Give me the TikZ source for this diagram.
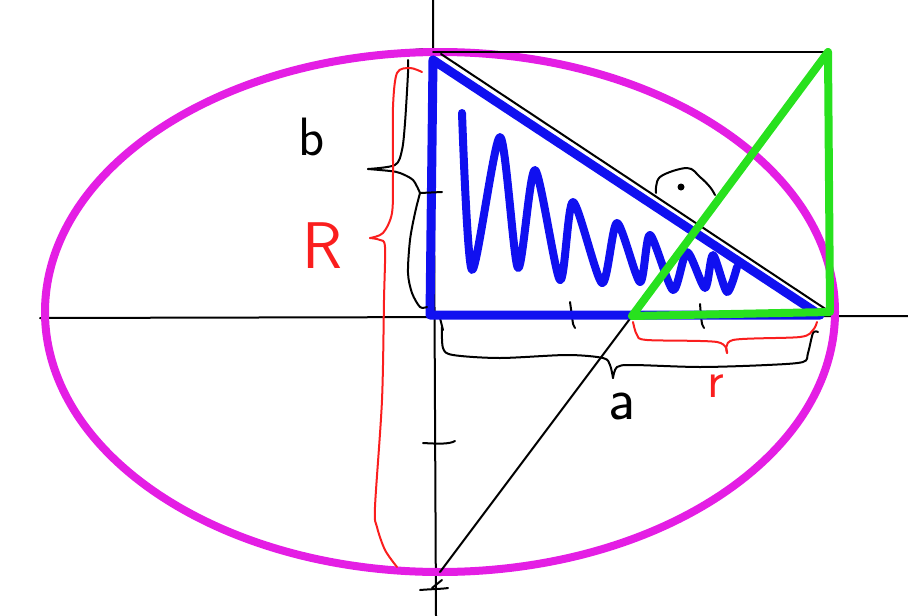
\documentclass[tikz,border=0pt]{standalone}
\usepackage{tikz}
\definecolor{mag}{RGB}{228,30,228}
\definecolor{pblue}{RGB}{16,16,240}
\definecolor{pgreen}{RGB}{40,225,30}
\definecolor{pred}{RGB}{250,30,30}
\tikzset{
  ink/.style={black,line width=2pt,line cap=round,line join=round},
  redink/.style={pred,line width=2pt,line cap=round,line join=round},
  bluestroke/.style={pblue,line width=9pt,line cap=round,line join=round},
  greenstroke/.style={pgreen,line width=8pt,line cap=round,line join=round},
  magstroke/.style={mag,line width=8pt},
  lbl/.style={inner sep=0pt,font=\sffamily}
}
\begin{document}
\begin{tikzpicture}[x=1pt,y=-1pt]
\useasboundingbox (0,0) rectangle (908,616);
% axes
\coordinate (yt) at (433,0); \coordinate (yb) at (436,616);
\coordinate (xl) at (40,318); \coordinate (xr) at (908,316);
\draw[ink] (yt) -- (yb);
\draw[ink] (xl) -- (xr);
% ticks
\draw[ink] (570,302) -- (572,316) .. controls (573,325) .. (575,328);
\draw[ink] (700,304) -- (701,316) .. controls (702,325) .. (704,328);
\draw[ink] (423,443) .. controls (440,444) and (450,444) .. (455,441);
\draw[ink] (420,590) .. controls (432,589) and (442,589) .. (448,588);
\draw[ink] (442,580) -- (432,588);
\draw[ink] (413,50) -- (425,49);
\draw[ink] (437,49) -- (448,50);
\draw[ink] (440,318) -- (443,330);
% ellipse
\node[draw=none,inner sep=0pt] (O) at (440,312) {};
\draw[magstroke] (O) ellipse [x radius=395, y radius=260];
% black construction lines
\coordinate (TL) at (433,52); \coordinate (TR) at (828,52);
\coordinate (BR) at (830,312); \coordinate (M) at (632,316);
\coordinate (Bot) at (440,572);
\draw[ink] (TL) -- (TR);
\draw[ink] (441,54) -- (BR);
\draw[ink] (M) -- (Bot);
% blue triangle
\draw[bluestroke] (433,60) -- (430,315) -- (820,315) -- cycle;
% blue squiggle
\draw[pblue,line width=8pt,line cap=round,line join=round]
  plot[smooth,tension=0.45] coordinates {(462,113) (472,270) (500,137) (518,268) (535,170) (560,280) (573,202) (602,283) (617,223) (640,282) (650,235) (673,290) (687,252) (705,288) (713,255) (727,292) (737,267)};
% green triangle
\draw[greenstroke] (M) -- (TR) -- (BR) -- cycle;
% right angle marker
\draw[ink] plot[smooth,tension=0.6] coordinates {(656,193) (660,177) (687,168) (700,177) (710,187) (715,195)};
\fill (681,187) circle (3.5pt);
% black brace b
\draw[ink] plot[smooth,tension=0.5] coordinates {(408,60) (408,73) (405,123) (402,150) (395,165) (368,169)};
\draw[ink] plot[smooth,tension=0.5] coordinates {(368,169) (390,171) (400,173) (413,180) (420,193)};
\draw[ink] (420,193) -- (442,192);
\draw[ink] plot[smooth,tension=0.5] coordinates {(420,193) (415,213) (410,240) (408,273) (412,293) (420,307) (427,307)};
% red brace R
\draw[redink] plot[smooth,tension=0.5] coordinates {(422,72) (410,68) (397,73) (393,107) (393,173) (392,213) (383,233) (370,238)};
\draw[redink] plot[smooth,tension=0.5] coordinates {(370,238) (380,240) (385,247) (384,300) (382,400) (375,507) (377,527) (385,550) (397,567)};
% black brace a
\draw[ink] plot[smooth,tension=0.5] coordinates {(442,327) (443,348) (453,355) (500,358) (567,355) (603,358) (610,365) (613,378)};
\draw[ink] plot[smooth,tension=0.5] coordinates {(613,378) (617,367) (633,365) (700,367) (767,365) (803,362) (808,353) (813,333) (818,332)};
% red brace r
\draw[redink] plot[smooth,tension=0.5] coordinates {(633,322) (637,335) (647,340) (717,342) (727,353)};
\draw[redink] plot[smooth,tension=0.5] coordinates {(727,353) (733,340) (800,337) (813,330) (817,322)};
% labels
\node[lbl,font=\sffamily\fontsize{54}{54}\selectfont] (lb) at (312,137) {b};
\node[lbl,font=\sffamily\fontsize{66}{66}\selectfont,text=pred] (lR) at (322,246) {R};
\node[lbl,font=\sffamily\fontsize{60}{60}\selectfont] (la) at (622,406) {a};
\node[lbl,font=\sffamily\fontsize{52}{52}\selectfont,text=pred] (lr) at (716,386) {r};
\end{tikzpicture}
\end{document}
